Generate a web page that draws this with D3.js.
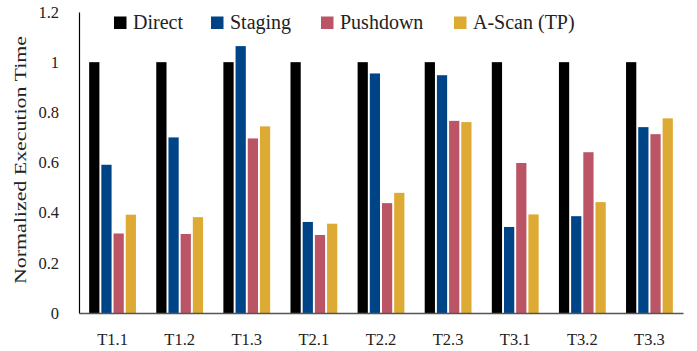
<!DOCTYPE html>
<html>
<head>
<meta charset="utf-8">
<script src="https://cdn.jsdelivr.net/npm/d3@7"></script>
<style>
  html, body { margin: 0; padding: 0; background: #fff; }
  svg { display: block; }
  text { font-family: "Liberation Serif", "DejaVu Serif", serif; fill: #222; }
</style>
</head>
<body>
<svg id="chart" width="697" height="351"></svg>
<script>
const categories = ["T1.1", "T1.2", "T1.3", "T2.1", "T2.2", "T2.3", "T3.1", "T3.2", "T3.3"];
const seriesNames = ["Direct", "Staging", "Pushdown", "A-Scan (TP)"];
const direct   = [1, 1, 1, 1, 1, 1, 1, 1, 1];
const staging  = [0.591, 0.700, 1.064, 0.363, 0.955, 0.948, 0.343, 0.386, 0.741];
const pushdown = [0.317, 0.315, 0.696, 0.311, 0.438, 0.766, 0.598, 0.641, 0.713];
const ascan    = [0.392, 0.382, 0.744, 0.356, 0.479, 0.761, 0.393, 0.442, 0.776];
const yTicks = [0, 0.2, 0.4, 0.6, 0.8, 1, 1.2];
const yTickLabels = ["0", "0.2", "0.4", "0.6", "0.8", "1", "1.2"];
const colors = ["#000000", "#004488", "#BB5566", "#DDAA33"];

const seriesValues = [direct, staging, pushdown, ascan];

const svg = d3.select("#chart");
const mLeft = 79, mRight = 683, mTop = 12, mBottom = 313;

const x = d3.scaleBand().domain(categories).range([mLeft, mRight]).padding(0);
const x1 = d3.scaleBand().domain(seriesNames)
  .range([x.bandwidth() / 2 - 23.4, x.bandwidth() / 2 + 23.4])
  .paddingInner(0.16).paddingOuter(0);
const y = d3.scaleLinear().domain([0, 1.2]).range([mBottom, mTop]);
const color = d3.scaleOrdinal().domain(seriesNames).range(colors);

// bars
const groups = svg.append("g").selectAll("g")
  .data(categories)
  .join("g")
  .attr("transform", d => `translate(${x(d)},0)`);

groups.selectAll("rect")
  .data((c, i) => seriesNames.map((s, j) => ({ s, v: seriesValues[j][i] })))
  .join("rect")
  .attr("x", d => x1(d.s))
  .attr("width", x1.bandwidth())
  .attr("y", d => y(d.v))
  .attr("height", d => y(0) - y(d.v))
  .attr("fill", d => color(d.s));

// y axis
const yAxis = d3.axisLeft(y).tickValues(yTicks)
  .tickFormat((d, i) => yTickLabels[i]).tickSize(0).tickPadding(20);
const gy = svg.append("g").attr("transform", `translate(${mLeft},0)`).call(yAxis);
gy.select(".domain").attr("stroke", "#000").attr("stroke-width", 1.2);
gy.selectAll("text").style("font-size", "16.5px")
  .style("font-family", '"Liberation Serif", serif').attr("fill", "#222");

// x axis
const xAxis = d3.axisBottom(x).tickSize(0).tickPadding(20);
const gx = svg.append("g").attr("transform", `translate(0,${mBottom})`).call(xAxis);
gx.select(".domain").attr("stroke", "#555").attr("stroke-width", 1.6);
gx.selectAll("text").style("font-size", "16.5px")
  .style("font-family", '"Liberation Serif", serif').attr("fill", "#222");

// y title
svg.append("text")
  .attr("transform", `translate(26,${(36 + 284) / 2}) rotate(-90)`)
  .attr("text-anchor", "middle")
  .attr("textLength", 248)
  .attr("lengthAdjust", "spacingAndGlyphs")
  .style("font-size", "17.5px")
  .text("Normalized Execution Time");

// legend
const legendX = [114, 211, 321, 454];
const legend = svg.append("g").selectAll("g")
  .data(seriesNames)
  .join("g")
  .attr("transform", (d, i) => `translate(${legendX[i]},16.5)`);
legend.append("rect").attr("width", 12.5).attr("height", 12.5).attr("fill", d => color(d));
legend.append("text").attr("x", 19).attr("y", 12.8)
  .style("font-size", "20px").text(d => d);
</script>
</body>
</html>
